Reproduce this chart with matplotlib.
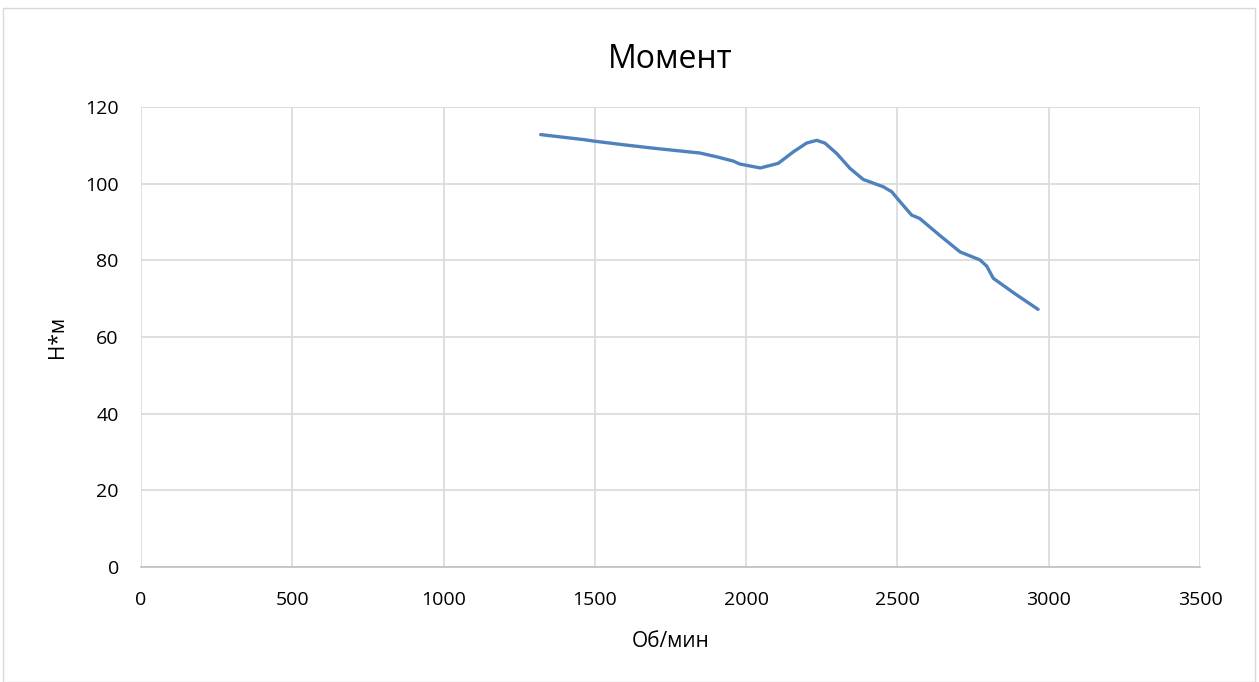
import matplotlib
matplotlib.use('Agg')
import matplotlib.pyplot as plt
from matplotlib.patches import Rectangle

# обороты, об/мин
rpm = [1321, 1462, 1497, 1600, 1700, 1847, 1903, 1957, 1980, 2047, 2106, 2156,
       2200, 2233, 2260, 2299, 2343, 2387, 2453, 2481, 2514, 2547, 2574, 2640,
       2707, 2773, 2795, 2817, 2890, 2965]
# момент, Н*м
torque = [112.8, 111.5, 111.1, 110.1, 109.2, 108.0, 107.0, 105.9, 105.1, 104.1,
          105.3, 108.3, 110.6, 111.3, 110.6, 107.9, 104.0, 101.1, 99.2, 97.9,
          94.8, 91.8, 90.9, 86.5, 82.2, 80.1, 78.5, 75.3, 71.2, 67.2]

plt.rcParams['font.family'] = ['Open Sans', 'DejaVu Sans']

fig = plt.figure(figsize=(12.59, 6.82), dpi=100)
ax = fig.add_axes([141/1259, 1 - 567/682, (1200-141)/1259, (567-107)/682])

ax.plot(rpm, torque, color='#4F81BD', linewidth=2.4,
        solid_capstyle='round', solid_joinstyle='round')

ax.set_xlim(0, 3500)
ax.set_ylim(0, 120)
ax.set_xticks(range(0, 3501, 500))
ax.set_yticks(range(0, 121, 20))
ax.grid(True, color='#d9d9d9', linewidth=1.2)
ax.set_axisbelow(True)
for s in ['top', 'right', 'left']:
    ax.spines[s].set_visible(False)
ax.spines['bottom'].set_color('#bfbfbf')
ax.spines['bottom'].set_linewidth(1.2)
ax.tick_params(length=0, labelsize=14, colors='black')
ax.tick_params(axis='x', pad=17)
ax.tick_params(axis='y', pad=16)

ax.set_title('Момент', fontsize=23, pad=28)
ax.set_xlabel('Об/мин', fontsize=15, labelpad=16)
ax.set_ylabel('Н*м', fontsize=15, labelpad=12)

fig.patches.append(Rectangle((3/1259, 0), 1252/1259, 1 - 8/682, transform=fig.transFigure,
                             fill=False, edgecolor='#d9d9d9', linewidth=1))

plt.savefig('out.png', dpi=100)
